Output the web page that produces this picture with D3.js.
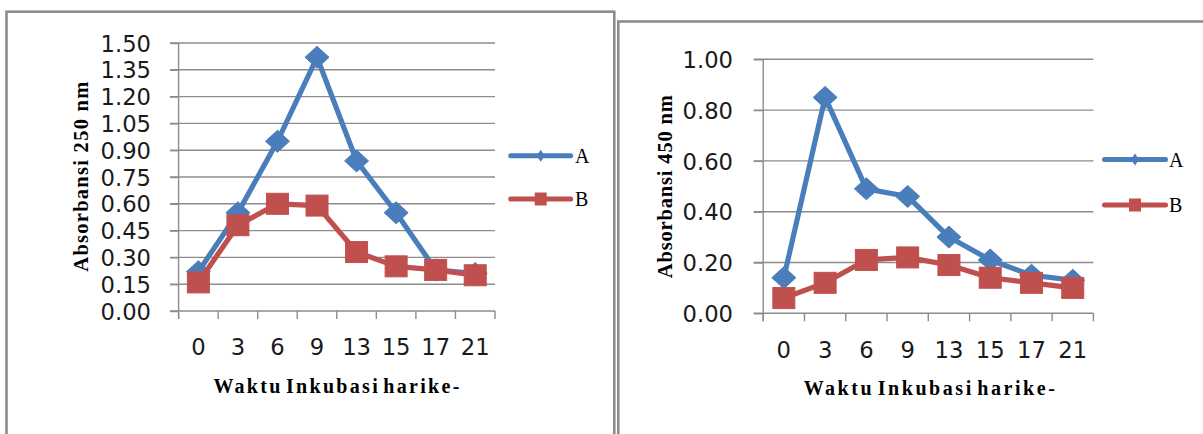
<!DOCTYPE html>
<html>
<head>
<meta charset="utf-8">
<script src="https://cdn.jsdelivr.net/npm/d3@7"></script>
<style>
  html, body { margin: 0; padding: 0; background: #fff; }
  svg { display: block; }
</style>
</head>
<body>
<svg id="chart" width="1203" height="434"></svg>
<script>
// ---- data ----
const categories = ["0", "3", "6", "9", "13", "15", "17", "21"];
const seriesNames = ["A", "B"];
const absA250 = [0.22, 0.55, 0.95, 1.42, 0.84, 0.55, 0.23, 0.21];
const absB250 = [0.16, 0.48, 0.60, 0.59, 0.33, 0.25, 0.23, 0.20];
const absA450 = [0.14, 0.85, 0.49, 0.46, 0.30, 0.21, 0.15, 0.13];
const absB450 = [0.06, 0.12, 0.21, 0.22, 0.19, 0.14, 0.12, 0.10];
const yTicks250 = [0, 0.15, 0.30, 0.45, 0.60, 0.75, 0.90, 1.05, 1.20, 1.35, 1.50];
const yTicks450 = [0, 0.20, 0.40, 0.60, 0.80, 1.00];
const yTitle250 = "Absorbansi 250 nm";
const yTitle450 = "Absorbansi 450 nm";
const xTitle = "Waktu Inkubasi harike-";

// ---- styles / layout ----
const colors = { A: "#4a7ebb", B: "#c0504d" };
const gridColor = "#8c8c8c";
const frameColor = "#8c8c8c";

const panels = [
  {
    series: [absA250, absB250], ticks: yTicks250, yTitle: yTitle250,
    frame: { x: 6.5, y: 11.7, w: 607.8, h: 600 },
    left: 178.6, right: 495, top: 43, bottom: 311,
    tickLen: 8.6, tickPad: 19, xLabelBase: 355,
    yTitlePos: { x: 88, y: 176.7, len: 190 },
    xTitlePos: { x: 337.5, y: 393, ls: 2.3 },
    legend: { x1: 510.7, x2: 570.7, yA: 155.7, yB: 199, tx: 575 }
  },
  {
    series: [absA450, absB450], ticks: yTicks450, yTitle: yTitle450,
    frame: { x: 618.3, y: 21.5, w: 700, h: 600 },
    left: 763.2, right: 1093.4, top: 59.3, bottom: 313.3,
    tickLen: 9.5, tickPad: 20.7, xLabelBase: 358.3,
    yTitlePos: { x: 671.5, y: 186.7, len: 183 },
    xTitlePos: { x: 930.5, y: 395, ls: 2.55 },
    legend: { x1: 1104.5, x2: 1165.5, yA: 159.5, yB: 205, tx: 1169 }
  }
];

const svg = d3.select("#chart");
svg.append("rect").attr("width", 1203).attr("height", 434).attr("fill", "#fff");

const tickFont = "'DejaVu Sans', sans-serif";
const serifFont = "'Liberation Serif', 'Times New Roman', serif";

panels.forEach(p => {
  const g = svg.append("g");

  // frame
  g.append("rect")
    .attr("x", p.frame.x).attr("y", p.frame.y)
    .attr("width", p.frame.w).attr("height", p.frame.h)
    .attr("fill", "none").attr("stroke", frameColor).attr("stroke-width", 2.6);

  const x = d3.scaleBand().domain(categories).range([p.left, p.right]).padding(0);
  const y = d3.scaleLinear().domain([0, p.ticks[p.ticks.length - 1]]).range([p.bottom, p.top]);

  // gridlines
  g.append("g").selectAll("line").data(p.ticks).join("line")
    .attr("x1", p.left - p.tickLen).attr("x2", p.right)
    .attr("y1", d => y(d)).attr("y2", d => y(d))
    .attr("stroke", gridColor).attr("stroke-width", 1.4);

  // y axis
  const yAxis = d3.axisLeft(y).tickValues(p.ticks).tickSize(p.tickLen)
    .tickPadding(p.tickPad).tickFormat(d3.format(".2f"));
  const ya = g.append("g").attr("transform", `translate(${p.left},0)`).call(yAxis);
  ya.select(".domain").attr("stroke", gridColor).attr("stroke-width", 1.4)
    .attr("d", `M0,${p.top}V${p.bottom + 8}`);
  ya.selectAll(".tick line").attr("stroke", gridColor).attr("stroke-width", 1.4);
  ya.selectAll(".tick text")
    .attr("font-family", tickFont).attr("font-size", 22.7).attr("fill", "#1a1a1a")
    .attr("dy", "0.36em");

  // x axis: labels centred in bands
  const xAxis = d3.axisBottom(x).tickSize(0).tickPadding(0);
  const xa = g.append("g").attr("transform", `translate(0,${p.bottom})`).call(xAxis);
  xa.select(".domain").remove();
  xa.selectAll(".tick text")
    .attr("font-family", tickFont).attr("font-size", 22.7).attr("fill", "#1a1a1a")
    .attr("y", p.xLabelBase - p.bottom).attr("dy", 0);
  // boundary tick marks
  const bounds = categories.map(c => x(c)).concat([p.right]);
  g.append("g").selectAll("line").data(bounds).join("line")
    .attr("x1", d => d).attr("x2", d => d)
    .attr("y1", p.bottom).attr("y2", p.bottom + 8)
    .attr("stroke", gridColor).attr("stroke-width", 1.4);

  // series
  const cx = c => x(c) + x.bandwidth() / 2;
  p.series.forEach((vals, si) => {
    const name = seriesNames[si];
    const col = colors[name];
    const line = d3.line().x((d, i) => cx(categories[i])).y(d => y(d));
    g.append("path").datum(vals).attr("d", line)
      .attr("fill", "none").attr("stroke", col).attr("stroke-width", 5.2)
      .attr("stroke-linejoin", "round").attr("stroke-linecap", "round");
    const mg = g.append("g");
    vals.forEach((v, i) => {
      const px = cx(categories[i]), py = y(v);
      if (name === "A") {
        mg.append("path")
          .attr("d", `M${px},${py - 11}L${px + 12},${py}L${px},${py + 11}L${px - 12},${py}Z`)
          .attr("fill", col).attr("stroke", col).attr("stroke-width", 1);
      } else {
        mg.append("rect").attr("x", px - 11).attr("y", py - 10.5)
          .attr("width", 22).attr("height", 21)
          .attr("fill", col).attr("stroke", col).attr("stroke-width", 1);
      }
    });
  });

  // legend
  seriesNames.forEach((name, si) => {
    const ly = si === 0 ? p.legend.yA : p.legend.yB;
    const col = colors[name];
    const mx = (p.legend.x1 + p.legend.x2) / 2;
    g.append("line").attr("x1", p.legend.x1).attr("x2", p.legend.x2)
      .attr("y1", ly).attr("y2", ly)
      .attr("stroke", col).attr("stroke-width", 5).attr("stroke-linecap", "round");
    if (name === "A") {
      g.append("path").attr("d", `M${mx},${ly - 6}L${mx + 4},${ly}L${mx},${ly + 6}L${mx - 4},${ly}Z`)
        .attr("fill", col);
    } else {
      g.append("rect").attr("x", mx - 6).attr("y", ly - 6.5).attr("width", 12).attr("height", 13)
        .attr("fill", col);
    }
    g.append("text").attr("x", p.legend.tx).attr("y", ly + 7)
      .attr("font-family", serifFont).attr("font-size", 20).attr("fill", "#000")
      .text(name);
  });

  // axis titles
  g.append("text")
    .attr("transform", `translate(${p.yTitlePos.x},${p.yTitlePos.y}) rotate(-90)`)
    .attr("text-anchor", "middle")
    .attr("font-family", serifFont).attr("font-weight", "bold").attr("font-size", 20.5)
    .attr("textLength", p.yTitlePos.len).attr("lengthAdjust", "spacing")
    .attr("fill", "#000")
    .text(p.yTitle);
  g.append("text")
    .attr("x", p.xTitlePos.x).attr("y", p.xTitlePos.y)
    .attr("text-anchor", "middle")
    .attr("font-family", serifFont).attr("font-weight", "bold").attr("font-size", 20)
    .attr("letter-spacing", p.xTitlePos.ls).attr("word-spacing", -4)
    .attr("fill", "#000")
    .text(xTitle);
});
</script>
</body>
</html>
